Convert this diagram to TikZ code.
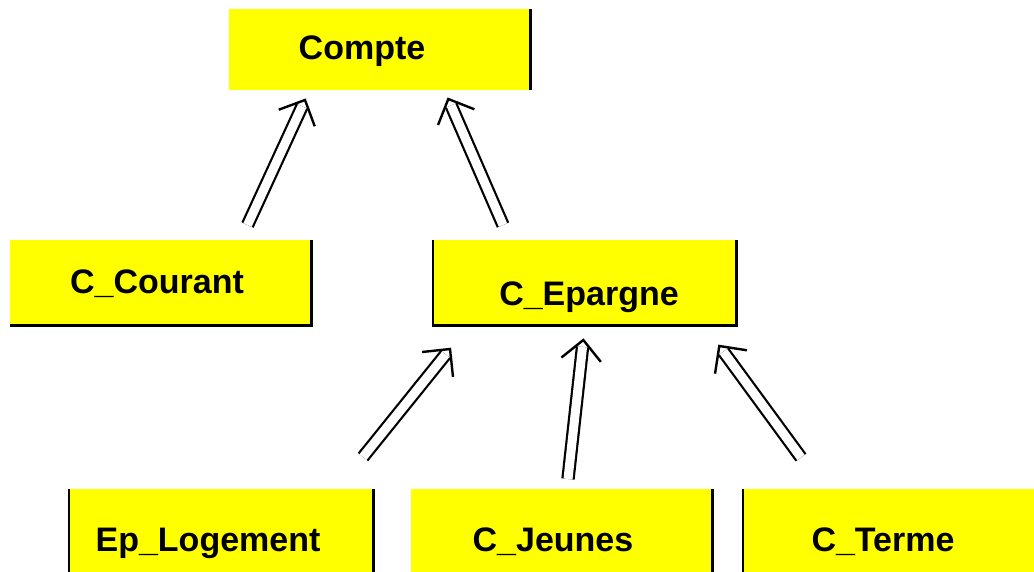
\documentclass[tikz,border=0pt]{standalone}
\usepackage{fontspec}
\setmainfont{Liberation Sans}
\usetikzlibrary{calc}
\definecolor{boxyellow}{RGB}{255,255,0}
\tikzset{
  box/.style={fill=boxyellow, draw=none, inner sep=0pt, anchor=north west},
  lbl/.style={font=\bfseries\fontsize{34}{40}\selectfont, anchor=base, inner sep=0pt},
  edge/.style={draw=black, line width=2.6pt},
  dbl/.style={draw=black, line width=2.2pt, double=white, double distance=9pt, shorten >=7pt},
  head/.style={draw=black, line width=2.4pt, line join=miter, line cap=butt},
}
\begin{document}
\begin{tikzpicture}[x=1pt, y=-1pt]
\useasboundingbox (0,0) rectangle (1034,571);
% boxes
\node[box, minimum width=301pt, minimum height=81pt] (compte) at (229,9) {};
\node[box, minimum width=301pt, minimum height=85pt] (courant) at (10,240) {};
\node[box, minimum width=303pt, minimum height=85pt] (epargne) at (433,240) {};
\node[box, minimum width=304pt, minimum height=90pt] (logement) at (69,489) {};
\node[box, minimum width=301pt, minimum height=90pt] (jeunes) at (411,489) {};
\node[box, minimum width=300pt, minimum height=90pt] (terme) at (743,489) {};
% partial borders
\draw[edge] (compte.north east) -- (compte.south east);
\draw[edge] (courant.north east) -- (courant.south east) -- (courant.south west);
\draw[edge] (epargne.north west) -- (epargne.south west) -- (epargne.south east) -- (epargne.north east);
\draw[edge] (logement.north west) -- (logement.south west);
\draw[edge] (logement.north east) -- (logement.south east);
\draw[edge] (jeunes.north east) -- (jeunes.south east);
\draw[edge] (terme.north west) -- (terme.south west);
% labels
\node[lbl] (tcompte) at (362,59) {Compte};
\node[lbl] (tcourant) at (157,293) {C\_Courant};
\node[lbl] (tepargne) at (589,305) {C\_Epargne};
\node[lbl] (tlogement) at (208,551) {Ep\_Logement};
\node[lbl] (tjeunes) at (553,551) {C\_Jeunes};
\node[lbl] (tterme) at (883,551) {C\_Terme};
% arrow ends
\coordinate (s1) at (247.5,225); \coordinate (e1) at (305,100);
\coordinate (s2) at (503,225);   \coordinate (e2) at (448.3,99);
\coordinate (s3) at (363,457);   \coordinate (e3) at (450,349);
\coordinate (s4) at (568,479);   \coordinate (e4) at (583.3,340);
\coordinate (s5) at (801,457.5); \coordinate (e5) at (719.3,346);
% connectors
\foreach \i in {1,...,5}{
  \draw[dbl] (s\i) -- (e\i);
  \draw[head] ($(e\i)!28pt!45:(s\i)$) -- (e\i) -- ($(e\i)!28pt!-45:(s\i)$);
}
\end{tikzpicture}
\end{document}
